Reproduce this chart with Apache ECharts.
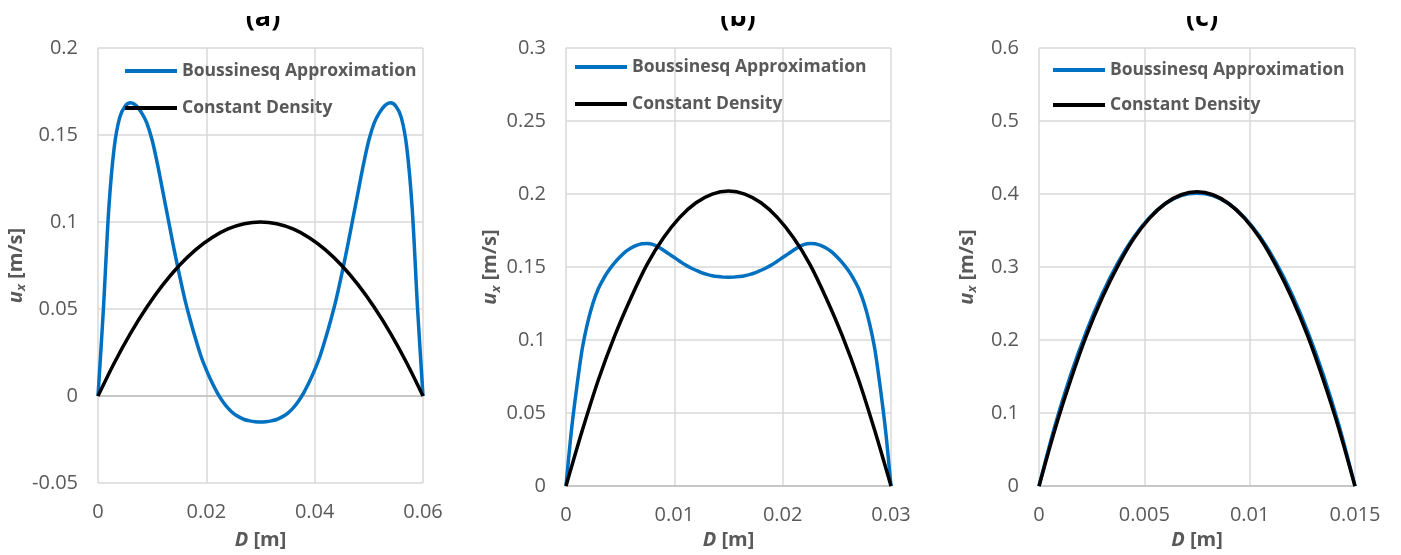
<!DOCTYPE html>
<html>
<head>
<meta charset="utf-8">
<script src="https://cdn.jsdelivr.net/npm/echarts@6/dist/echarts.min.js"></script>
<style>
html,body{margin:0;padding:0;background:#fff;}
#chart{width:1401px;height:555px;}
</style>
</head>
<body>
<div id="chart"></div>
<script>
// ---------- data ----------
const seriesNames = ['Boussinesq Approximation', 'Constant Density'];
const panelTitles = ['(a)', '(b)', '(c)'];

// Panel (a)  (x in m, u_x in m/s)
const xA_bouss = [0, 0.001, 0.002, 0.003, 0.004, 0.005, 0.006, 0.007, 0.008, 0.009, 0.010, 0.011, 0.012, 0.013, 0.014, 0.015, 0.016, 0.017, 0.018, 0.019, 0.020, 0.021, 0.022, 0.023, 0.024, 0.025, 0.026, 0.027, 0.028, 0.029, 0.030, 0.031, 0.032, 0.033, 0.034, 0.035, 0.036, 0.037, 0.038, 0.039, 0.040, 0.041, 0.042, 0.043, 0.044, 0.045, 0.046, 0.047, 0.048, 0.049, 0.050, 0.051, 0.052, 0.053, 0.054, 0.055, 0.056, 0.057, 0.058, 0.059, 0.060];
const yA_bouss = [0, 0.050, 0.108, 0.143, 0.160, 0.1665, 0.1685, 0.167, 0.163, 0.157, 0.147, 0.133, 0.117, 0.101, 0.085, 0.070, 0.056, 0.044, 0.033, 0.023, 0.015, 0.008, 0.002, -0.003, -0.007, -0.010, -0.012, -0.0135, -0.0143, -0.0148, -0.015, -0.0148, -0.0143, -0.0135, -0.012, -0.010, -0.007, -0.003, 0.002, 0.008, 0.015, 0.023, 0.033, 0.044, 0.056, 0.070, 0.085, 0.101, 0.117, 0.133, 0.147, 0.157, 0.163, 0.167, 0.1685, 0.1665, 0.160, 0.143, 0.108, 0.050, 0];
const xA_const = [0, 0.003, 0.006, 0.009, 0.012, 0.015, 0.018, 0.021, 0.024, 0.027, 0.030, 0.033, 0.036, 0.039, 0.042, 0.045, 0.048, 0.051, 0.054, 0.057, 0.060];
const yA_const = [0, 0.019, 0.036, 0.051, 0.064, 0.075, 0.084, 0.091, 0.096, 0.099, 0.100, 0.099, 0.096, 0.091, 0.084, 0.075, 0.064, 0.051, 0.036, 0.019, 0];

// Panel (b)
const xB_bouss = [0, 0.0005, 0.001, 0.0015, 0.002, 0.0025, 0.003, 0.0035, 0.004, 0.0045, 0.005, 0.0055, 0.006, 0.0065, 0.007, 0.0075, 0.008, 0.0085, 0.009, 0.0095, 0.010, 0.0105, 0.011, 0.0115, 0.012, 0.0125, 0.013, 0.0135, 0.014, 0.0145, 0.015, 0.0155, 0.016, 0.0165, 0.017, 0.0175, 0.018, 0.0185, 0.019, 0.0195, 0.020, 0.0205, 0.021, 0.0215, 0.022, 0.0225, 0.023, 0.0235, 0.024, 0.0245, 0.025, 0.0255, 0.026, 0.0265, 0.027, 0.0275, 0.028, 0.0285, 0.029, 0.0295, 0.030];
const yB_bouss = [0, 0.038, 0.068, 0.094, 0.112, 0.1255, 0.1355, 0.1425, 0.1483, 0.153, 0.157, 0.1605, 0.163, 0.1648, 0.166, 0.1662, 0.1655, 0.1638, 0.1615, 0.159, 0.1565, 0.154, 0.1515, 0.1495, 0.1478, 0.1462, 0.145, 0.1441, 0.1435, 0.1431, 0.143, 0.1431, 0.1435, 0.1441, 0.145, 0.1462, 0.1478, 0.1495, 0.1515, 0.154, 0.1565, 0.159, 0.1615, 0.1638, 0.1655, 0.1662, 0.166, 0.1648, 0.163, 0.1605, 0.157, 0.153, 0.1483, 0.1425, 0.1355, 0.1255, 0.112, 0.094, 0.068, 0.038, 0];
const xB_const = [0, 0.0015, 0.003, 0.0045, 0.006, 0.0075, 0.009, 0.0105, 0.012, 0.0135, 0.015, 0.0165, 0.018, 0.0195, 0.021, 0.0225, 0.024, 0.0255, 0.027, 0.0285, 0.030];
const yB_const = [0, 0.038, 0.073, 0.103, 0.129, 0.152, 0.170, 0.184, 0.194, 0.200, 0.202, 0.200, 0.194, 0.184, 0.170, 0.152, 0.129, 0.103, 0.073, 0.038, 0];

// Panel (c)
const xC = [0, 0.00075, 0.0015, 0.00225, 0.003, 0.00375, 0.0045, 0.00525, 0.006, 0.00675, 0.0075, 0.00825, 0.009, 0.00975, 0.0105, 0.01125, 0.012, 0.01275, 0.0135, 0.01425, 0.015];
const yC_bouss = [0, 0.082, 0.152, 0.212, 0.263, 0.306, 0.341, 0.368, 0.387, 0.398, 0.401, 0.398, 0.387, 0.368, 0.341, 0.306, 0.263, 0.212, 0.152, 0.082, 0];
const yC_const = [0, 0.077, 0.145, 0.206, 0.258, 0.302, 0.339, 0.367, 0.387, 0.399, 0.403, 0.399, 0.387, 0.367, 0.339, 0.302, 0.258, 0.206, 0.145, 0.077, 0];

// axis ranges / ticks  [min, max, interval]
const xRanges = [[0, 0.06, 0.02], [0, 0.03, 0.01], [0, 0.015, 0.005]];
const yRanges = [[-0.05, 0.2, 0.05], [0, 0.3, 0.05], [0, 0.6, 0.1]];

// ---------- layout ----------
const grids = [
  {left: 98, top: 48, width: 325, height: 437},
  {left: 566, top: 48, width: 325, height: 442},
  {left: 1039, top: 48, width: 316, height: 445}
];
const titleX = [263, 738, 1202];
const legendPos = [{left: 120, top: 56}, {left: 570, top: 52}, {left: 1048, top: 55}];
const legendGap = [17, 17, 15];
const xNameGap = [47, 42, 39];
const yNameGap = [66, 58, 60];

const FONT = 'Open Sans';
const GREY = '#595959';
const BLUE = '#0070C0';
const BLACK = '#000000';

function pairs(xs, ys) { return xs.map((x, i) => [x, ys[i]]); }

const panelData = [
  [pairs(xA_bouss, yA_bouss), pairs(xA_const, yA_const)],
  [pairs(xB_bouss, yB_bouss), pairs(xB_const, yB_const)],
  [pairs(xC, yC_bouss), pairs(xC, yC_const)]
];

const xAxes = [], yAxes = [], series = [], legends = [], graphics = [];
for (let p = 0; p < 3; p++) {
  xAxes.push({
    type: 'value', gridIndex: p,
    min: xRanges[p][0], max: xRanges[p][1], interval: xRanges[p][2],
    axisLine: {show: true, onZero: true, lineStyle: {color: '#bfbfbf', width: 1.5}},
    axisTick: {show: false},
    axisLabel: {color: GREY, fontFamily: FONT, fontSize: 20, margin: 19},
    splitLine: {show: true, lineStyle: {color: '#d9d9d9', width: 1.5}},
    name: '{d|D}{r| [m]}', nameLocation: 'middle', nameGap: xNameGap[p],
    nameTextStyle: {
      rich: {
        d: {fontFamily: FONT, fontSize: 20, fontWeight: 'bold', fontStyle: 'italic', color: GREY},
        r: {fontFamily: FONT, fontSize: 20, fontWeight: 'bold', color: GREY}
      }
    }
  });
  yAxes.push({
    type: 'value', gridIndex: p,
    min: yRanges[p][0], max: yRanges[p][1], interval: yRanges[p][2],
    axisLine: {show: false},
    axisTick: {show: false},
    axisLabel: {color: GREY, fontFamily: FONT, fontSize: 20, margin: 20},
    splitLine: {show: true, lineStyle: {color: '#d9d9d9', width: 1.5}},
    name: '{u|u}{x|x}{r| [m/s]}', nameLocation: 'middle', nameGap: yNameGap[p],
    nameRotate: 90,
    nameTextStyle: {
      rich: {
        u: {fontFamily: FONT, fontSize: 20, fontWeight: 'bold', fontStyle: 'italic', color: GREY, lineHeight: 24},
        x: {fontFamily: FONT, fontSize: 13, fontWeight: 'bold', fontStyle: 'italic', color: GREY, lineHeight: 14, verticalAlign: 'bottom'},
        r: {fontFamily: FONT, fontSize: 20, fontWeight: 'bold', color: GREY, lineHeight: 24}
      }
    }
  });
  const cols = [BLUE, BLACK];
  for (let s = 0; s < 2; s++) {
    series.push({
      type: 'line', name: seriesNames[s], xAxisIndex: p, yAxisIndex: p,
      data: panelData[p][s], showSymbol: false, smooth: 0.3,
      lineStyle: {color: cols[s], width: 3.5}, itemStyle: {color: cols[s]},
      z: s === 0 ? 3 : 4, animation: false
    });
  }
  legends.push({
    left: legendPos[p].left, top: legendPos[p].top, orient: 'vertical',
    data: seriesNames, icon: 'rect', itemWidth: 52, itemHeight: 4,
    itemGap: legendGap[p], selectedMode: false,
    textStyle: {fontFamily: FONT, fontSize: 17.5, fontWeight: 'bold', color: GREY, lineHeight: 20}
  });
  graphics.push({
    type: 'text', x: titleX[p], y: 18, z: 10,
    style: {text: panelTitles[p], fontFamily: FONT, fontSize: 27, fontWeight: 'bold', fill: '#000', align: 'center', verticalAlign: 'middle'}
  });
}
graphics.push({type: 'rect', shape: {x: 0, y: 0, width: 1401, height: 16}, style: {fill: '#fff'}, z: 20});

const chart = echarts.init(document.getElementById('chart'), null, {renderer: 'canvas'});
chart.setOption({
  animation: false,
  backgroundColor: '#fff',
  grid: grids,
  xAxis: xAxes,
  yAxis: yAxes,
  legend: legends,
  series: series,
  graphic: graphics
});
</script>
</body>
</html>
